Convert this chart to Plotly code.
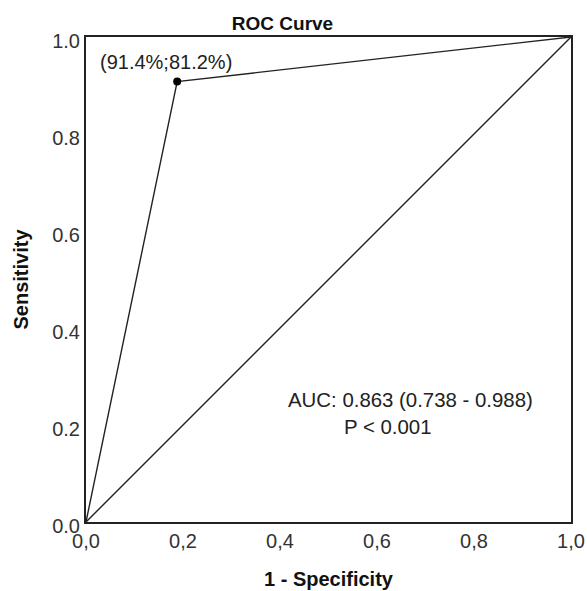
import plotly.graph_objects as go

roc_x = [0.0, 0.188, 1.0]
roc_y = [0.0, 0.908, 1.0]
ref_x = [0.0, 1.0]
ref_y = [0.0, 1.0]
tick_vals = [0.0, 0.2, 0.4, 0.6, 0.8, 1.0]
x_tick_text = ["0,0", "0,2", "0,4", "0,6", "0,8", "1,0"]
y_tick_text = ["0.0", "0.2", "0.4", "0.6", "0.8", "1.0"]
point_label = "(91.4%;81.2%)"
auc_text = "AUC: 0.863 (0.738 - 0.988)"
p_text = "P < 0.001"

FONT = "Liberation Sans, Arial, sans-serif"
TXT = "#222"

fig = go.Figure()
fig.add_trace(go.Scatter(x=ref_x, y=ref_y, mode="lines",
                         line=dict(color="#222", width=1.4), showlegend=False))
fig.add_trace(go.Scatter(x=roc_x, y=roc_y, mode="lines",
                         line=dict(color="#222", width=1.4), showlegend=False))
fig.add_trace(go.Scatter(x=[roc_x[1]], y=[roc_y[1]], mode="markers",
                         marker=dict(color="black", size=8), showlegend=False))

fig.add_annotation(x=0.025, y=0.948, text=point_label, showarrow=False,
                   xanchor="left", yanchor="middle",
                   font=dict(family=FONT, size=20, color=TXT))
fig.add_annotation(x=0.670, y=0.2515, text=auc_text, showarrow=False,
                   xanchor="center", yanchor="middle",
                   font=dict(family=FONT, size=20.4, color=TXT))
fig.add_annotation(x=0.528, y=0.196, text=p_text, showarrow=False,
                   xanchor="left", yanchor="middle",
                   font=dict(family=FONT, size=20.4, color=TXT))

# axis titles
fig.add_annotation(xref="paper", yref="paper", x=0.5, y=0, yshift=-57,
                   text="<b>1 - Specificity</b>", showarrow=False,
                   xanchor="center", yanchor="middle",
                   font=dict(family=FONT, size=20, color="#111"))
fig.add_annotation(xref="paper", yref="paper", x=0, y=0.5, xshift=-66,
                   text="<b>Sensitivity</b>", showarrow=False, textangle=-90,
                   xanchor="center", yanchor="middle",
                   font=dict(family=FONT, size=20, color="#111"))

axis_common = dict(range=[0, 1], showgrid=False, zeroline=False, automargin=False,
                   showline=True, linecolor="#222", linewidth=2, mirror=True,
                   ticks="", tickfont=dict(family=FONT, size=20, color="#333"),
                   tickvals=tick_vals)

fig.update_xaxes(**axis_common, ticktext=x_tick_text)
fig.update_yaxes(**axis_common, ticktext=y_tick_text, ticklabelshift=4)

fig.update_layout(
    width=587, height=591, autosize=False,
    margin=dict(l=86, r=16, t=37, b=69, autoexpand=False),
    paper_bgcolor="white", plot_bgcolor="white",
    title=dict(text="<b>ROC Curve</b>", x=0.4813, xanchor="center", y=0.961, yanchor="middle",
               automargin=False,
               font=dict(family=FONT, size=19, color="#111")),
)

fig.write_html(
    "out.html",
    config={"displayModeBar": False, "responsive": False},
    post_script=(
        "document.documentElement.style.margin='0';"
        "document.documentElement.style.overflow='hidden';"
        "document.body.style.margin='0';"
        "document.body.style.overflow='hidden';"
    ),
)
